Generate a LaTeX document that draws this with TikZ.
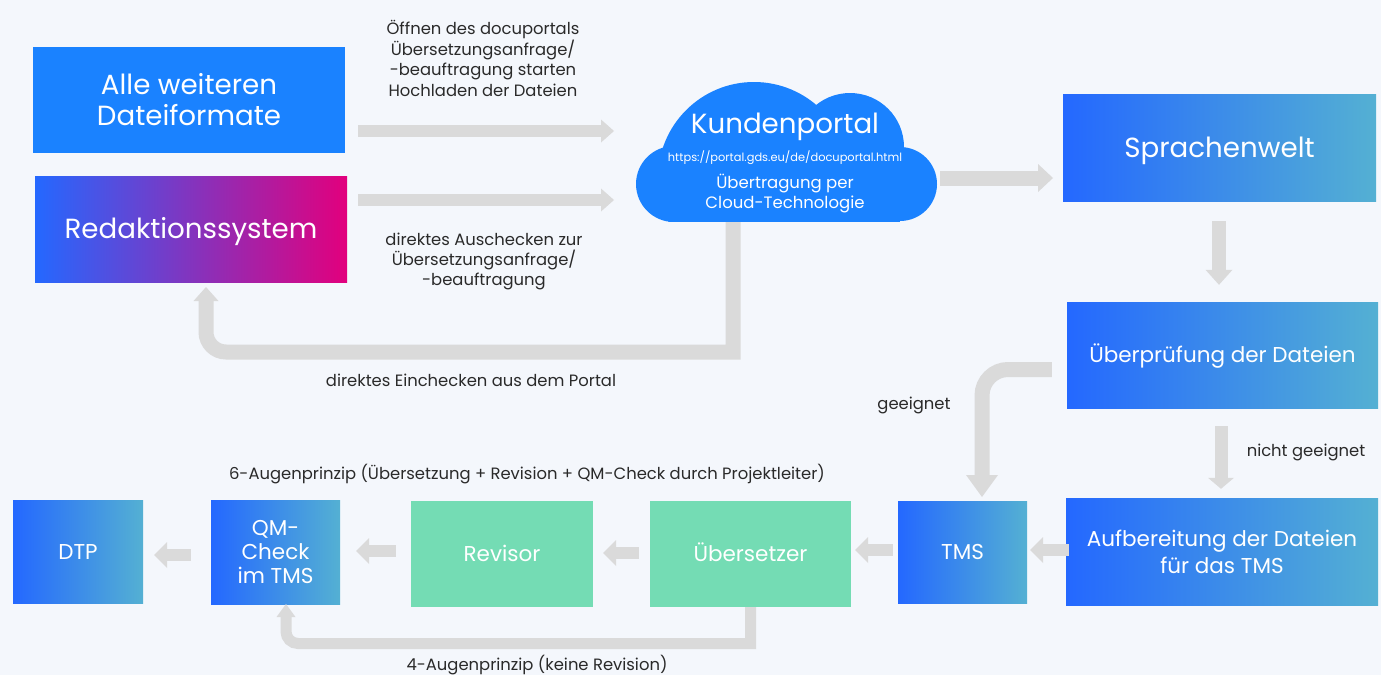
\documentclass[tikz,border=0pt]{standalone}
\usepackage{fontspec}
\setmainfont{Poppins}
\usetikzlibrary{arrows.meta,calc}
\definecolor{bg}{HTML}{F4F7FC}
\definecolor{solidblue}{HTML}{1A82FF}
\definecolor{gblue}{HTML}{2468FF}
\definecolor{gteal}{HTML}{54B0D3}
\definecolor{gmagenta}{HTML}{E2007D}
\definecolor{mint}{HTML}{74DCB4}
\definecolor{arrowgray}{HTML}{DADADA}
\definecolor{labeltext}{HTML}{2A2A2A}
\tikzset{
  box/.style={inner sep=0pt, text=white, align=center, anchor=center},
  bluegrad/.style={box, left color=gblue, right color=gteal},
  greenbox/.style={box, fill=mint},
  bigfont/.style={font=\fontsize{27.7}{31}\selectfont},
  midfont/.style={font=\fontsize{21.5}{27}\selectfont},
  bigone/.style={bigfont, text height=19.4pt, text depth=0pt},
  midone/.style={midfont, text height=15pt, text depth=0pt},
  lbl/.style={text=labeltext, align=center, inner sep=0pt, font=\fontsize{16.4}{20.4}\selectfont},
  fat/.style={draw=arrowgray, line width=#1},
  tipA/.style={-{Triangle[width=#1, length=13pt, line width=0pt]}},
}
\begin{document}
\begin{tikzpicture}[x=1pt,y=-1pt]
\fill[bg] (0,0) rectangle (1381,675);
\useasboundingbox (0,0) rectangle (1381,675);

% ---- boxes
\node[box, fill=solidblue, bigfont, minimum width=312pt, minimum height=106pt] (alle) at (189,100) {Alle weiteren\\Dateiformate};
\node[box, left color=gblue, right color=gmagenta, bigone, minimum width=312pt, minimum height=106pt] (redak) at (191,229) {Redaktionssystem};
\node[bluegrad, bigone, minimum width=313pt, minimum height=107pt] (sprach) at (1219.5,147.5) {Sprachenwelt};
\node[bluegrad, midone, minimum width=311pt, minimum height=106pt] (uepr) at (1222.5,355) {Überprüfung der Dateien};
\node[bluegrad, midfont, minimum width=312pt, minimum height=107pt] (aufb) at (1222,551.5) {Aufbereitung der Dateien\\für das TMS};
\node[bluegrad, midone, minimum width=129pt, minimum height=102pt] (tms) at (962.5,552) {TMS};
\node[greenbox, midone, minimum width=201pt, minimum height=106pt] (uebs) at (750.5,554) {Übersetzer};
\node[greenbox, midone, minimum width=182pt, minimum height=106pt] (rev) at (502,554) {Revisor};
\node[bluegrad, font=\fontsize{21.5}{24}\selectfont, minimum width=129pt, minimum height=104pt] (qm) at (275.5,552) {QM-\\Check\\im TMS};
\node[bluegrad, midone, minimum width=130pt, minimum height=103pt] (dtp) at (78,551.5) {DTP};

% ---- cloud
\begin{scope}
\clip (600,60) rectangle (960,221.5);
\fill[solidblue] (754,178) circle[radius=96pt];
\fill[solidblue] (850,147) circle[radius=54pt];
\fill[solidblue] (900,184) circle[radius=37pt];
\fill[solidblue] (674,184) circle[radius=38pt];
\fill[solidblue] (674,150) rectangle (900,221.5);
\end{scope}
\node[inner sep=0pt, minimum width=301pt, minimum height=140pt] (cloud) at (786.5,152) {};
\node[box, bigone] (kp) at (785,123.5) {Kundenportal};
\node[box, font=\fontsize{11.4}{13}\selectfont] (url) at (785,158) {https://portal.gds.eu/de/docuportal.html};
\node[box, font=\fontsize{16.5}{19.5}\selectfont] (cloudtxt) at (785,193.5) {Übertragung per\\Cloud-Technologie};

% ---- labels
\node[lbl] (l1) at (483,58.5) {Öffnen des docuportals\\Übersetzungsanfrage/\\-beauftragung starten\\Hochladen der Dateien};
\node[lbl] (l2) at (484,261.5) {direktes Auschecken zur\\Übersetzungsanfrage/\\-beauftragung};
\node[lbl] (l3) at (471,380) {direktes Einchecken aus dem Portal};
\node[lbl] (l4) at (914,405) {geeignet};
\node[lbl] (l5) at (1306,452) {nicht geeignet};
\node[lbl] (l6) at (527,474.5) {6-Augenprinzip (Übersetzung + Revision + QM-Check durch Projektleiter)};
\node[lbl] (l7) at (537,665) {4-Augenprinzip (keine Revision)};

% ---- connector coordinates
\coordinate (a1s) at (358,131); \coordinate (a1e) at (614,131);
\coordinate (a2s) at (358,200); \coordinate (a2e) at (614,200);
\coordinate (a3s) at (940,178); \coordinate (a3e) at (1053,178);
\coordinate (loopA) at (733,352);
\coordinate (loopB) at (206,352);
\coordinate (loopEnd) at (206,287);
\coordinate (curA) at (982,369.5);
\coordinate (curEnd) at (982,497);
\coordinate (botA) at (750.5,643.5);
\coordinate (botB) at (286,643.5);
\coordinate (botEnd) at (286,604);

% ---- connectors
\draw[fat=12.5pt, tipA=23pt] (a1s) -- (a1e);
\draw[fat=12.5pt, tipA=23pt] (a2s) -- (a2e);
\draw[fat=15pt, -{Triangle[width=28pt,length=15pt,line width=0pt]}] (a3s) -- (a3e);
\draw[fat=14pt, -{Triangle[width=27pt,length=15pt,line width=0pt]}, shorten <=20pt, shorten >=17pt] (sprach.south -| 1219,0) -- (uepr.north -| 1219,0);
\draw[fat=15pt, -{Triangle[width=32pt,length=22pt,line width=0pt]}, rounded corners=26pt, shorten <=15pt] (uepr.west |- curA) -- (curA) -- (curEnd);
\draw[fat=13pt, -{Triangle[width=26pt,length=11pt,line width=0pt]}, shorten <=18pt, shorten >=9pt] (uepr.south -| 1221,0) -- (aufb.north -| 1221,0);
\draw[fat=12.5pt, tipA=26pt, shorten <=-3pt, shorten >=3pt] (aufb.west |- 0,550) -- (tms.east |- 0,550);
\draw[fat=12.5pt, tipA=26pt, shorten <=5pt, shorten >=4pt] (tms.west |- 0,550) -- (uebs.east |- 0,550);
\draw[fat=12.5pt, tipA=26pt, shorten <=11pt, shorten >=10pt] (uebs.west |- 0,553) -- (rev.east |- 0,553);
\draw[fat=12.5pt, tipA=26pt, shorten <=15pt, shorten >=16pt] (rev.west |- 0,551) -- (qm.east |- 0,551);
\draw[fat=12.5pt, tipA=26pt, shorten <=20pt, shorten >=11pt] (qm.west |- 0,555) -- (dtp.east |- 0,555);
\draw[fat=15pt, -{Triangle[width=25pt,length=14pt,line width=0pt]}] (cloud.south -| loopA) -- (loopA) [rounded corners=20pt] -- (loopB) -- (loopEnd);
\draw[fat=11pt, -{Triangle[width=19pt,length=13pt,line width=0pt]}] (uebs.south) -- (botA) [rounded corners=12pt] -- (botB) -- (botEnd);
\end{tikzpicture}
\end{document}
